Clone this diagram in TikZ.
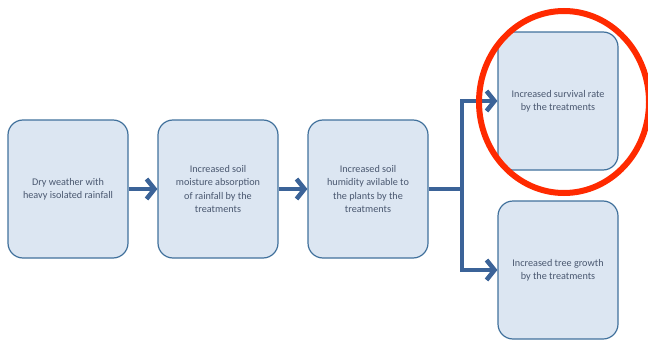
\documentclass[tikz,border=0pt]{standalone}
\usepackage{fontspec}
\setmainfont{Carlito}
\usetikzlibrary{arrows.meta, positioning}
\definecolor{boxFill}{HTML}{DCE6F2}
\definecolor{boxLine}{HTML}{41719C}
\definecolor{flowBlue}{HTML}{3B6398}
\definecolor{txtGray}{HTML}{4A5870}
\definecolor{ringRed}{HTML}{FF2A00}

\begin{document}
\begin{tikzpicture}[x=1pt, y=-1pt,
    stepbox/.style={draw=boxLine, fill=boxFill, line width=1.2pt,
      rounded corners=15pt, minimum width=120pt, minimum height=138pt,
      align=center, text=txtGray, inner sep=2pt,
      font=\fontsize{10.2}{13.3}\selectfont},
    flow/.style={draw=flowBlue, line width=4.5pt,
      -{Straight Barb[length=8pt, width=20pt]}}]
  \useasboundingbox (0,0) rectangle (648,340);
  % cajas
  \node[stepbox] (dry) at (68,189)
    {Dry weather with\\heavy isolated rainfall};
  \node[stepbox] (absorb) at (218,189)
    {Increased soil\\moisture absorption\\of rainfall by the\\treatments};
  \node[stepbox] (humid) at (368,189)
    {Increased soil\\humidity avilable to\\the plants by the\\treatments};
  \node[stepbox] (survival) at (558,101)
    {Increased survival rate\\by the treatments};
  \node[stepbox] (growth) at (558,270)
    {Increased tree growth\\by the treatments};
  % flechas
  \coordinate (fork) at (462,189);
  \draw[flow] (dry) -- (absorb);
  \draw[flow] (absorb) -- (humid);
  \draw[draw=flowBlue, line width=4.5pt] (humid) -- (fork);
  \draw[flow] (fork) |- (survival);
  \draw[flow] (fork) |- (growth);
  % circulo rojo
  \draw[ringRed, line width=6pt] (564,102) ellipse [x radius=85, y radius=91];
\end{tikzpicture}
\end{document}
